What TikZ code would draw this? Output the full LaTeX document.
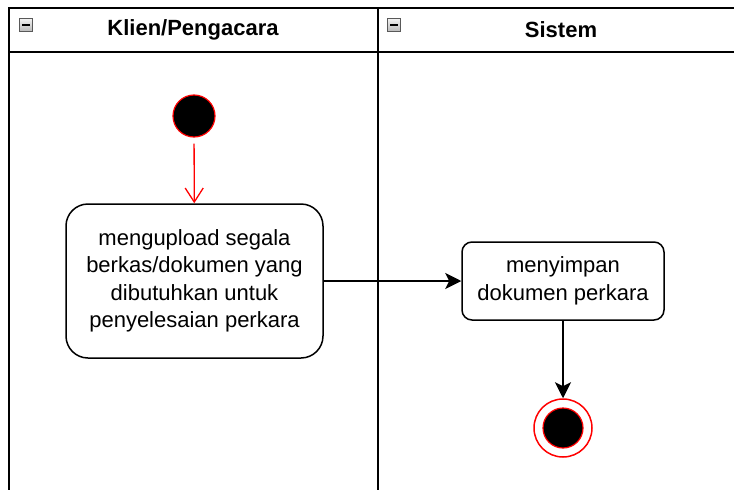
\documentclass[tikz,border=0pt]{standalone}
\usepackage{fontspec}
\setmainfont{Liberation Sans}
\usetikzlibrary{shapes,arrows.meta,calc}

\tikzset{
  laneline/.style={line width=2pt},
  lanetitle/.style={font=\bfseries\fontsize{22}{26}\selectfont},
  foldicon/.style={draw=gray!70!black,line width=0.6pt,top color=gray!10,bottom color=gray!55,minimum size=13pt,inner sep=0pt},
  actionbox/.style={draw,line width=1.5pt,align=center,font=\fontsize{22}{27.5}\selectfont},
  startnode/.style={circle,draw=red,fill=black,line width=1.2pt,minimum size=42pt,inner sep=0pt},
  flow/.style={-{Stealth[length=16pt,width=16pt,inset=4pt]},line width=1.5pt}
}

\begin{document}
\begin{tikzpicture}[x=1pt,y=-1pt]
  \useasboundingbox (0,0) rectangle (734,490);

  % swimlanes
  \draw[laneline] (734,8) -- (9,8) -- (9,490);
  \draw[laneline] (9,52) -- (734,52);
  \draw[laneline] (378,8) -- (378,490);

  \node[foldicon] (fold1) at (26,25) {};
  \draw[line width=1.2pt] ($(fold1.west)+(3,0)$) -- ($(fold1.east)+(-3,0)$);
  \node[foldicon] (fold2) at (394,25) {};
  \draw[line width=1.2pt] ($(fold2.west)+(3,0)$) -- ($(fold2.east)+(-3,0)$);

  \node[lanetitle] (klien) at (193,30) {Klien/Pengacara};
  \node[lanetitle] (sistem) at (561,30) {Sistem};

  % nodes
  \node[startnode] (start) at (194,116) {};
  \node[actionbox,rounded corners=22pt,minimum width=257pt,minimum height=154pt] (upload) at (194.5,281)
       {mengupload segala\\berkas/dokumen yang\\dibutuhkan untuk\\penyelesaian perkara};
  \node[actionbox,rounded corners=10pt,minimum width=202pt,minimum height=78pt] (simpan) at (563,281)
       {menyimpan\\dokumen perkara};
  \node[circle,draw=red,line width=1.5pt,minimum size=58pt,inner sep=0pt] (end) at (563,428) {};
  \node[circle,draw=red,fill=black,line width=1.2pt,minimum size=40pt,inner sep=0pt] (endin) at (end.center) {};

  % edges
  \draw[-{Straight Barb[length=14pt,width=18pt]},red,line width=1.3pt,shorten <=6pt] (start) -- (upload);
  \draw[flow] (upload) -- (simpan);
  \draw[flow] (simpan) -- (end);

\end{tikzpicture}
\end{document}
